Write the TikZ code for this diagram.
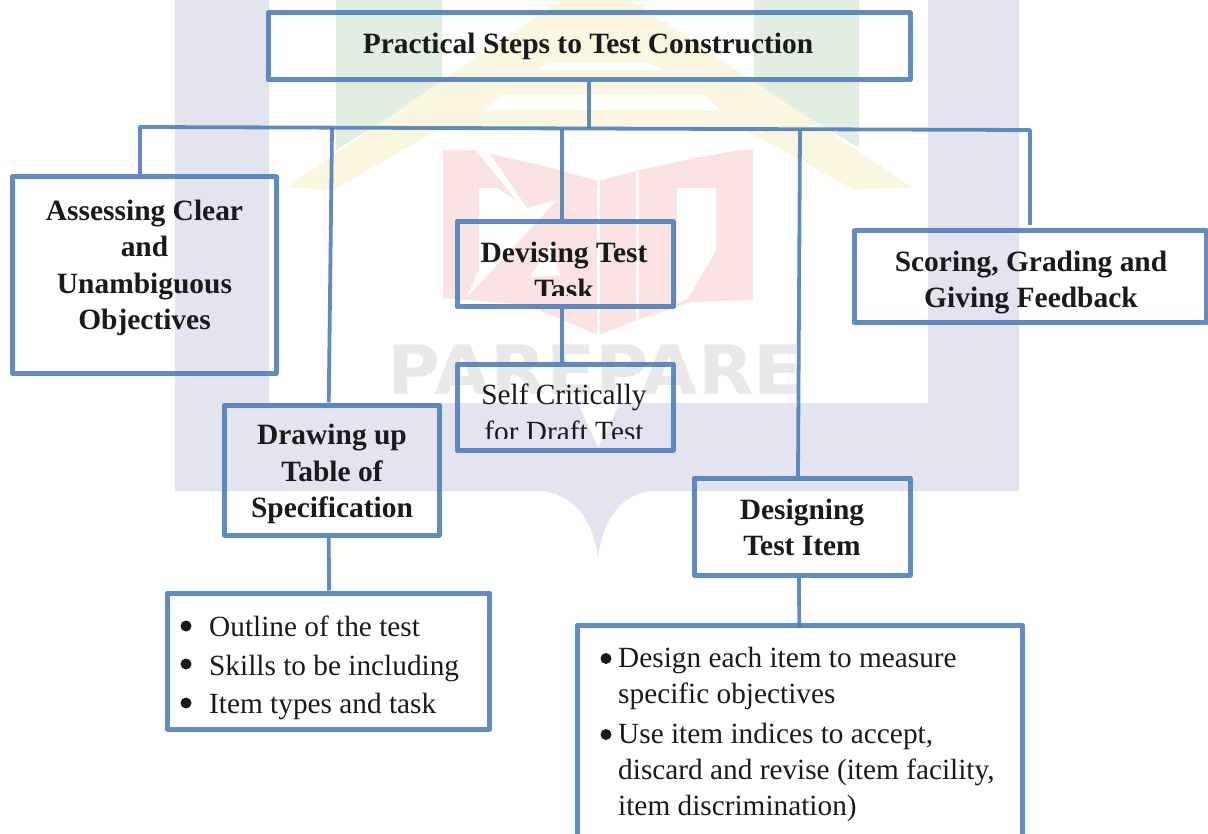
\documentclass[tikz,border=0pt]{standalone}
\usepackage{fontspec}
\setmainfont{Liberation Serif}
\newfontfamily\markfont{DejaVu Sans}
\definecolor{boxblue}{HTML}{4A7CBB}
\definecolor{inkblack}{HTML}{1A1A1A}
\definecolor{marklav}{HTML}{E3E4EF}
\definecolor{markgreen}{HTML}{E3EEE2}
\definecolor{markyellow}{HTML}{FAF6E0}
\definecolor{markpink}{HTML}{FBE3E4}
\definecolor{markgrey}{HTML}{E9E9E9}
\tikzset{
  stepbox/.style={draw=boxblue,draw opacity=.88,line width=5pt,line join=round,inner sep=0pt},
  link/.style={draw=boxblue,draw opacity=.88,line width=3.8pt},
  headlb/.style={text=inkblack,inner sep=0pt,align=center,font=\fontsize{29.45}{36.5}\selectfont\bfseries},
  plainlb/.style={text=inkblack,inner sep=0pt,align=center,font=\fontsize{29.3}{36.5}\selectfont},
  listlb/.style={text=inkblack,inner sep=0pt,align=left,font=\fontsize{29.3}{38.5}\selectfont}
}
\begin{document}
\begin{tikzpicture}[x=1pt,y=-1pt]
   \useasboundingbox (0,0) rectangle (1208,834);

   % watermark
   \fill[marklav] (175,0) -- (269,0) -- (269,403) -- (928,403) -- (928,0) -- (1019,0) -- (1019,491)
      -- (650,491) .. controls (615,497) and (603,525) .. (598,557) .. controls (593,525) and (580,497) .. (543,491)
      -- (175,491) -- cycle;
   \fill[white] (578,403) -- (620,403) -- (598,447) -- cycle;
   \fill[markgreen] (336,0) -- (442,0) -- (442,85) -- (336,150) -- cycle;
   \fill[markgreen] (754,0) -- (859,0) -- (859,148) -- (754,85) -- cycle;
   \fill[markyellow] (560,0) -- (632,0) -- (912,187) -- (855,190) -- (745,130) -- (438,130) -- (333,190) -- (287,187) -- cycle;
   \fill[white] (539,70) -- (548,63) -- (650,63) -- (661,70) -- cycle;
   \fill[white] (485,110) -- (500,95) -- (704,95) -- (720,110) -- cycle;
   \fill[markpink] (443,150) -- (475,150) -- (490,154) -- (540,165) -- (598,181) -- (640,170) -- (700,157) -- (740,150) -- (753,150)
      -- (753,300) -- (690,302) -- (637,320) -- (598,335) -- (527,305) -- (443,298) -- cycle;
   \fill[white] (479,188) -- (497,188) -- (527,208) -- (557,200) -- (466,298) -- (479,270) -- cycle;
   \fill[white] (475,150) -- (490,154) -- (527,208) -- (522,208) -- (492,170) -- cycle;
   \fill[white] (552,243) -- (560,275) -- (530,277) -- cycle;
   \fill[white] (677,188) -- (716,188) -- (716,250) -- (688,298) -- (677,304) -- cycle;
   \fill[white] (597,181) rectangle (600,336);
   \fill[white] (636,172) rectangle (639,321);
   \node[text=markgrey,inner sep=0pt,font=\fontsize{68}{68}\selectfont\markfont\bfseries] (marklb) at (595.5,370) {\scalebox{1.065}[1]{PAREPARE}};

   % boxes
   \node[stepbox,minimum width=642pt,minimum height=67pt] (title) at (589,46.5) {};
   \node[stepbox,minimum width=264pt,minimum height=197pt] (assess) at (144.5,275) {};
   \node[stepbox,minimum width=216pt,minimum height=85.5pt] (devise) at (565,264.25) {};
   \node[stepbox,minimum width=216pt,minimum height=85.5pt] (critic) at (565,407.25) {};
   \node[stepbox,minimum width=352pt,minimum height=92pt] (score) at (1030,277) {};
   \node[stepbox,minimum width=214.5pt,minimum height=130pt] (table) at (331.75,470) {};
   \node[stepbox,minimum width=216pt,minimum height=96.5pt] (design) at (802,526.75) {};
   \node[stepbox,minimum width=322pt,minimum height=136pt] (outline) at (328.5,661) {};
   \node[stepbox,minimum width=445.5pt,minimum height=220pt] (measure) at (799.75,735.5) {};

   % bus
   \coordinate (b1) at (140,127);
   \coordinate (b2) at (1030,130);
   \coordinate (b3) at (1030,225);
   \coordinate (j1) at (589,128.5);
   \coordinate (j2) at (332,128);
   \coordinate (j3) at (562,129);
   \coordinate (j4) at (800,129.5);

   \draw[link,line join=round] (assess.north -| b1) -- (b1) -- (b2) -- (b3);
   \draw[link] (title.south) -- (j1);
   \draw[link] (j2) -- ([xshift=-3pt]table.north);
   \draw[link] (j3) -- ([xshift=-3pt]devise.north);
   \draw[link] (j4) -- ([xshift=-4pt]design.north);
   \draw[link] ([xshift=-3pt]devise.south) -- ([xshift=-3pt]critic.north);
   \draw[link] ([xshift=-3pt]table.south) -- ([xshift=.5pt]outline.north);
   \draw[link] ([xshift=-3pt]design.south) -- ([xshift=-.5pt,yshift=-5pt]measure.north);

   % labels
   \node[headlb] (titlelb) at (588,46) {Practical Steps to Test Construction};
   \node[headlb] (assesslb) at (144.5,268) {Assessing Clear\\and\\Unambiguous\\Objectives};
   \node[headlb] (scorelb) at (1031,282.5) {Scoring, Grading and\\Giving Feedback};
   \node[headlb] (tablelb) at (332,474) {Drawing up\\Table of\\Specification};
   \node[headlb] (designlb) at (802,527.5) {Designing\\Test Item};
   \begin{scope}
      \clip (459,223) rectangle (671,296);
      \node[headlb] (devislb) at (564,271) {Devising Test\\Task};
   \end{scope}
   \begin{scope}
      \clip (459,367) rectangle (671,438);
      \node[plainlb] (criticlb) at (564,413) {Self Critically\\for Draft Test};
   \end{scope}

   \fill[inkblack] (186,626) circle [radius=5.5];
   \fill[inkblack] (186,664) circle [radius=5.5];
   \fill[inkblack] (186,703) circle [radius=5.5];
   \node[listlb,anchor=west] (outlinelb) at (209,668) {Outline of the test\\
      Skills to be including\\
      Item types and task};

   \fill[inkblack] (606,658.5) circle [radius=5.5];
   \fill[inkblack] (606,734.5) circle [radius=5.5];
   \node[listlb,anchor=west] (measurelb) at (618,734) {Design each item to measure\\[-2.5pt]
      specific objectives\\[1.5pt]
      Use item indices to accept,\\[-2.5pt]
      discard and revise (item facility,\\[-2.5pt]
      item discrimination)};
\end{tikzpicture}
\end{document}
